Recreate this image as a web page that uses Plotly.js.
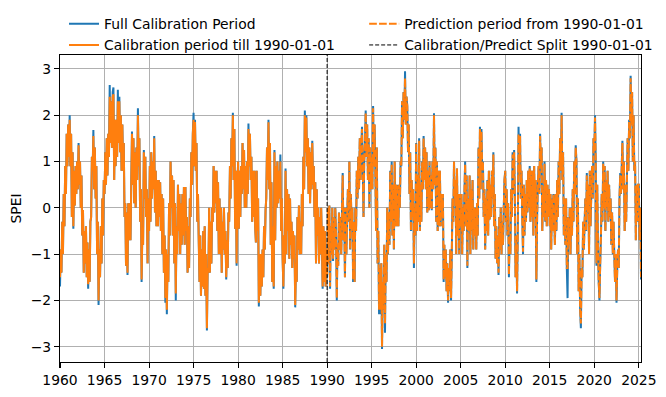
<!DOCTYPE html>
<html><head><meta charset="utf-8">
<script src="https://cdn.plot.ly/plotly-3.0.1.min.js"></script>
<style>html,body{margin:0;padding:0;background:#fff}</style>
</head><body><div id="chart" style="width:666px;height:397px"></div>
<script>
// ---- data (monthly SPEI values) ----
const calStartYear = 1960;          // calibration series starts Jan 1960
const predStartYear = 1990;         // prediction series starts Jan 1990
const splitDate = '1990-01-01';

const blueCal = [
-1.7,-0.9,-1.4,-0.3,-1.0,0.3,-0.4,0.9,0.3,1.6,0.9,1.8,
1.1,2.0,0.9,1.6,-0.2,1.2,-0.45,0.8,0.05,0.9,0.3,1.0,
0.4,1.4,0.5,1.0,0.0,0.7,-0.6,-0.05,-1.4,-0.5,-1.2,-0.4,
-1.5,-0.75,-1.75,-0.9,-1.6,-0.3,-0.2,1.1,0.8,1.68,0.4,1.3,
0.2,0.9,-1.0,-0.3,-2.1,-0.9,-1.5,-0.4,-1.2,0.2,-0.6,0.6,
0.3,1.2,0.5,1.5,0.7,1.6,1.1,2.65,1.4,2.3,1.3,2.5,
2.6,0.6,1.9,0.9,1.9,1.1,2.55,1.4,2.4,1.2,2.0,0.8,
1.8,0.8,1.4,-0.2,0.1,-1.25,-0.1,-1.45,0.1,-0.7,0.1,-0.7,
0.5,1.65,0.5,1.5,0.1,1.2,0.0,1.3,0.6,2.15,0.9,1.5,
-0.3,0.4,-1.6,-0.5,-0.8,1.25,0.2,1.1,-0.2,0.4,-1.2,0.2,
-0.5,0.9,-0.3,1.2,0.2,1.0,0.4,1.55,-0.1,0.8,-0.4,0.6,
-0.4,0.6,-0.2,0.55,-0.5,0.3,-1.0,0.2,-1.4,-0.6,-2.05,-0.9,
-2.3,-1.0,-1.6,0.1,-0.6,1.0,0.0,0.7,-0.6,0.6,-1.2,0.1,
-2.0,-0.4,-1.0,0.5,-0.5,0.3,-1.0,0.1,-0.8,0.3,-0.6,0.45,
-0.8,0.45,-0.5,-0.2,-1.4,-0.4,-1.3,0.2,-0.2,1.2,0.5,1.6,
2.05,0.9,1.9,0.8,1.4,-0.3,0.3,-0.7,-1.6,-0.6,-1.9,-0.9,
-1.7,-0.5,-1.75,-0.4,-1.9,-1.0,-2.65,-1.3,-1.4,0.0,-1.4,-0.3,
-1.2,0.0,-0.3,0.9,-0.1,0.8,0.1,0.8,-0.5,0.55,-1.0,0.2,
-1.0,0.0,-1.4,-0.3,-0.9,0.0,-1.0,-0.5,-1.55,-0.7,-1.3,-0.1,
-0.3,0.9,0.2,1.5,0.9,2.05,0.6,1.7,-0.45,0.8,-1.25,0.3,
1.0,-0.45,0.8,-0.2,0.9,0.3,1.4,0.4,1.25,0.0,0.9,0.0,
1.0,0.3,1.82,0.9,1.6,0.6,1.1,-0.3,0.8,-0.2,0.8,-0.4,
-0.75,0.8,-0.5,0.2,-2.13,-1.0,-1.9,-1.0,-1.7,-0.9,-1.5,-0.4,
-0.9,-0.05,0.2,1.3,0.6,1.9,0.4,1.4,-0.8,0.55,-1.6,-0.4,
-1.75,1.25,-0.7,0.9,0.0,1.0,0.1,0.8,0.2,1.15,-0.5,0.2,
-1.1,-1.75,-0.6,-1.2,0.85,-1.0,0.4,-0.5,0.3,-1.1,0.2,-0.8,
-0.3,-1.3,-0.5,-1.1,-0.6,-2.15,-1.2,-1.6,-0.2,-0.9,0.05,-1.0,
-0.3,-1.0,0.3,-0.4,1.1,0.4,2.1,1.2,2.0,0.9,1.5,0.3,
1.3,0.1,1.2,0.4,1.45,0.5,0.9,-0.2,0.55,-1.2,0.4,-0.6,
0.0,-1.2,-0.2,-1.0,0.0,-0.8,-1.75,-0.4,-1.6,-0.5,-1.7,-0.9
];

const bluePred = [
-1.5,0.0,-1.2,0.05,-1.75,-0.4,-1.0,0.0,-1.15,-0.2,-0.9,0.0,
-0.6,-2.0,-0.8,-1.25,-0.1,-0.9,-0.2,-1.0,-0.1,0.75,-0.7,0.0,
-1.5,0.0,-1.0,-0.2,0.4,-0.3,1.0,-0.9,0.3,-0.5,0.0,-1.6,
-0.3,-1.6,0.0,-0.5,0.8,0.2,1.1,0.4,1.5,0.6,1.3,1.75,
0.9,-0.2,1.0,1.4,2.1,1.1,1.8,0.6,1.5,0.0,1.3,0.4,
1.1,0.4,2.2,0.9,1.8,0.8,-0.5,1.3,-1.2,-0.5,-2.3,-1.3,
-2.3,-1.2,-3.05,-1.6,-2.2,-0.8,-2.7,-1.0,-1.6,0.0,-1.0,-0.1,
-0.8,0.8,-0.3,1.0,-0.6,0.5,-0.9,1.0,-0.4,0.5,-0.4,0.5,
-0.4,0.5,0.0,1.0,0.9,2.3,1.5,2.5,1.9,2.95,1.8,2.4,
2.2,1.2,1.8,0.3,1.2,-0.5,0.6,-0.2,0.4,-1.3,0.0,-0.6,
1.4,-0.5,0.7,-0.3,1.5,-0.5,0.5,-0.3,1.0,0.4,1.55,0.6,
1.3,0.4,1.2,-0.1,0.8,-0.05,1.0,0.0,0.7,-0.05,1.0,0.4,
2.04,0.5,1.3,-0.3,1.0,-0.5,0.8,-0.4,0.8,-0.4,0.3,-0.2,
0.3,-1.6,-0.8,-1.5,-0.9,-1.8,-1.2,-2.05,-1.3,-1.8,-0.9,-2.0,
-1.0,0.2,-0.3,1.0,0.2,0.6,-1.0,0.85,-0.6,0.3,-1.0,0.3,
-0.4,0.3,-1.0,0.0,-0.5,0.3,1.0,-0.4,0.7,-1.3,0.2,-0.5,
0.7,-1.0,0.4,-0.5,0.6,-0.9,0.0,-0.6,0.0,-0.9,0.1,-0.6,
1.3,0.2,1.75,0.4,1.7,0.8,1.0,-0.2,0.4,-0.9,0.2,-0.5,
0.6,-0.6,0.8,-0.25,0.5,-0.2,0.8,0.2,1.2,-0.4,0.3,-1.1,
-0.4,-1.2,-0.6,-1.45,-0.2,-0.9,0.0,-1.0,-0.3,-0.8,0.0,0.6,
0.8,-0.3,0.4,-0.6,0.1,-1.5,-0.6,-1.0,0.4,-0.2,1.2,0.3,
1.25,0.2,-1.5,-0.6,-1.85,-0.5,1.75,0.7,1.6,0.2,0.8,-0.2,
-1.0,0.5,-0.6,0.3,-0.3,0.6,-0.1,0.8,0.0,0.9,-0.3,0.8,
-0.2,0.8,-0.6,0.9,-0.2,0.6,-1.6,-0.2,0.5,0.9,0.3,1.6,
0.9,1.3,-0.5,0.4,-0.2,1.0,-0.3,0.6,-0.4,0.5,-0.2,0.4,
-0.4,0.3,-0.9,0.2,-0.5,0.3,-0.2,-0.8,0.3,-0.5,0.6,-0.2,
1.0,0.3,1.5,0.8,2.05,0.6,1.2,-0.6,0.2,-0.8,0.2,-1.3,
-1.95,-0.2,-0.8,0.0,-1.0,0.0,-0.6,0.4,-0.3,1.0,0.3,1.35,
1.0,-1.0,0.2,-1.8,-1.0,-2.2,-2.6,-1.3,-1.5,-0.3,-0.9,-0.3,
0.2,-0.5,0.75,-0.1,0.5,-1.0,0.8,-0.4,0.3,0.9,0.2,1.5,
1.2,2.0,1.0,-1.25,0.5,-0.8,-1.6,-2.0,-1.2,-0.6,0.3,-0.3,
1.0,0.0,0.9,-0.5,0.6,0.0,0.8,-0.3,0.5,-0.2,0.2,-0.8,
-0.1,-1.0,-0.3,-1.0,-1.6,-1.0,-2.05,-1.3,-0.9,-1.3,0.2,0.75,
0.3,0.9,1.45,0.4,1.0,-0.5,0.5,-0.3,0.6,1.5,0.8,1.9,
1.5,2.85,1.8,2.5,1.0,2.0,0.8,1.0,-0.7,0.5,-0.3,0.5,
0.5,-0.7,0.0,-1.55
];

const orangeCal = [
-1.5,-0.9,-1.4,-0.3,-1.0,0.3,-0.4,0.9,0.3,1.6,0.9,1.8,
1.1,1.9,0.9,1.6,-0.2,1.2,-0.4,0.8,0.05,0.9,0.3,1.0,
0.4,1.35,0.5,1.0,0.0,0.7,-0.6,-0.05,-1.4,-0.5,-1.2,-0.4,
-1.5,-0.75,-1.65,-0.9,-1.6,-0.3,-0.2,1.1,0.8,1.55,0.4,1.3,
0.2,0.9,-1.0,-0.3,-2.0,-0.9,-1.5,-0.4,-1.2,0.2,-0.6,0.6,
0.3,1.2,0.5,1.5,0.7,1.6,1.1,2.4,1.4,2.3,1.3,2.4,
2.45,0.6,1.9,0.9,1.9,1.1,2.3,1.4,2.3,1.2,2.0,0.8,
1.8,0.8,1.4,-0.2,0.1,-1.25,-0.1,-1.4,0.1,-0.7,0.1,-0.7,
0.5,1.6,0.5,1.5,0.1,1.2,0.0,1.3,0.6,2.0,0.9,1.5,
-0.3,0.4,-1.55,-0.5,-0.8,1.2,0.2,1.1,-0.2,0.4,-1.2,0.2,
-0.5,0.9,-0.3,1.2,0.2,1.0,0.4,1.5,-0.1,0.8,-0.4,0.6,
-0.4,0.6,-0.2,0.55,-0.5,0.3,-1.0,0.2,-1.4,-0.6,-1.95,-0.9,
-2.2,-1.0,-1.6,0.1,-0.6,1.0,0.0,0.7,-0.6,0.6,-1.2,0.1,
-1.85,-0.4,-1.0,0.5,-0.5,0.3,-1.0,0.1,-0.8,0.3,-0.6,0.45,
-0.8,0.45,-0.5,-0.2,-1.4,-0.4,-1.3,0.2,-0.2,1.2,0.5,1.6,
1.9,0.9,1.85,0.8,1.4,-0.3,0.3,-0.7,-1.6,-0.6,-1.9,-0.9,
-1.7,-0.5,-1.75,-0.4,-1.9,-1.0,-2.6,-1.3,-1.4,0.0,-1.4,-0.3,
-1.2,0.0,-0.3,0.9,-0.1,0.8,0.1,0.8,-0.5,0.55,-1.0,0.2,
-1.0,0.0,-1.4,-0.3,-0.9,0.0,-1.0,-0.5,-1.5,-0.7,-1.3,-0.1,
-0.3,0.9,0.2,1.5,0.9,2.0,0.6,1.7,-0.45,0.8,-1.2,0.3,
1.0,-0.45,0.8,-0.2,0.9,0.3,1.4,0.4,1.25,0.0,0.9,0.0,
1.0,0.3,1.7,0.9,1.6,0.6,1.1,-0.3,0.8,-0.2,0.8,-0.4,
-0.75,0.8,-0.5,0.2,-2.05,-1.0,-1.9,-1.0,-1.7,-0.9,-1.5,-0.4,
-0.9,-0.05,0.2,1.3,0.6,1.85,0.4,1.4,-0.8,0.55,-1.6,-0.4,
-1.7,1.2,-0.7,0.9,0.0,1.0,0.1,0.8,0.2,1.0,-0.5,0.2,
-1.1,-1.7,-0.6,-1.2,0.8,-1.0,0.4,-0.5,0.3,-1.1,0.2,-0.8,
-0.3,-1.3,-0.5,-1.1,-0.6,-2.1,-1.2,-1.6,-0.2,-0.9,0.05,-1.0,
-0.3,-1.0,0.3,-0.4,1.1,0.4,2.0,1.2,1.95,0.9,1.5,0.3,
1.3,0.1,1.2,0.4,1.4,0.5,0.9,-0.2,0.55,-1.2,0.4,-0.6,
0.0,-1.2,-0.2,-1.0,0.0,-0.8,-1.7,-0.4,-1.6,-0.5,-1.7,-0.9
];

const orangePred = [
-1.45,0.0,-1.2,0.05,-1.7,-0.4,-1.0,0.0,-1.1,-0.2,-0.9,0.0,
-0.6,-1.95,-0.8,-1.25,-0.1,-0.9,-0.2,-1.0,-0.1,0.7,-0.7,0.0,
-1.5,0.0,-1.0,-0.2,0.4,-0.3,1.0,-0.9,0.3,-0.5,0.0,-1.55,
-0.3,-1.6,0.0,-0.5,0.8,0.2,1.1,0.4,1.5,0.6,1.3,1.7,
0.9,-0.2,1.0,1.4,2.05,1.1,1.8,0.6,1.5,0.0,1.3,0.4,
1.1,0.4,2.15,0.9,1.8,0.8,-0.5,1.3,-1.2,-0.5,-2.2,-1.3,
-2.2,-1.2,-3.0,-1.6,-2.2,-0.8,-2.5,-1.0,-1.6,0.0,-1.0,-0.1,
-0.8,0.8,-0.3,0.95,-0.6,0.5,-0.9,1.0,-0.4,0.5,-0.4,0.5,
-0.4,0.5,0.0,1.0,0.9,2.3,1.5,2.5,1.9,2.8,1.8,2.4,
2.2,1.2,1.8,0.3,1.2,-0.5,0.6,-0.2,0.4,-1.2,0.0,-0.6,
1.4,-0.5,0.7,-0.3,1.45,-0.5,0.5,-0.3,1.0,0.4,1.5,0.6,
1.3,0.4,1.2,-0.1,0.8,-0.05,1.0,0.0,0.7,-0.05,1.0,0.4,
2.0,0.5,1.3,-0.3,1.0,-0.5,0.8,-0.4,0.8,-0.4,0.3,-0.2,
0.3,-1.55,-0.8,-1.5,-0.9,-1.8,-1.2,-2.0,-1.3,-1.8,-0.9,-1.95,
-1.0,0.2,-0.3,1.0,0.2,0.6,-1.0,0.85,-0.6,0.3,-1.0,0.3,
-0.4,0.3,-1.0,0.0,-0.5,0.3,0.95,-0.4,0.7,-1.25,0.2,-0.5,
0.7,-1.0,0.4,-0.5,0.6,-0.9,0.0,-0.6,0.0,-0.9,0.1,-0.6,
1.3,0.2,1.7,0.4,1.65,0.8,1.0,-0.2,0.4,-0.9,0.2,-0.5,
0.6,-0.6,0.8,-0.25,0.5,-0.2,0.8,0.2,1.15,-0.4,0.3,-1.1,
-0.4,-1.2,-0.6,-1.4,-0.2,-0.9,0.0,-1.0,-0.3,-0.8,0.0,0.6,
0.8,-0.3,0.4,-0.6,0.1,-1.45,-0.6,-1.0,0.4,-0.2,1.15,0.3,
1.2,0.2,-1.5,-0.6,-1.8,-0.5,1.6,0.7,1.55,0.2,0.8,-0.2,
-0.95,0.5,-0.6,0.3,-0.3,0.6,-0.1,0.8,0.0,0.85,-0.3,0.8,
-0.2,0.8,-0.6,0.9,-0.2,0.6,-1.55,-0.2,0.5,0.9,0.3,1.55,
0.9,1.3,-0.5,0.4,-0.2,0.95,-0.3,0.6,-0.4,0.5,-0.2,0.4,
-0.4,0.3,-0.9,0.2,-0.5,0.3,-0.2,-0.8,0.3,-0.5,0.6,-0.2,
1.0,0.3,1.5,0.8,2.0,0.6,1.2,-0.6,0.2,-0.8,0.2,-1.3,
-1.3,-0.2,-0.8,0.0,-1.0,0.0,-0.6,0.4,-0.3,1.0,0.3,1.3,
1.0,-1.0,0.2,-1.8,-1.0,-2.2,-2.5,-1.3,-1.5,-0.3,-0.9,-0.3,
0.2,-0.5,0.7,-0.1,0.5,-1.0,0.8,-0.4,0.3,0.9,0.2,1.5,
1.2,1.95,1.0,-1.2,0.5,-0.8,-1.6,-1.95,-1.2,-0.6,0.3,-0.3,
0.95,0.0,0.9,-0.5,0.6,0.0,0.8,-0.3,0.5,-0.2,0.2,-0.8,
-0.1,-1.0,-0.3,-1.0,-1.6,-1.0,-2.0,-1.3,-0.9,-1.3,0.2,0.7,
0.3,0.9,1.4,0.4,1.0,-0.5,0.5,-0.3,0.6,1.5,0.8,1.85,
1.5,2.8,1.8,2.5,1.0,2.0,0.8,1.0,-0.7,0.5,-0.3,0.5,
0.5,-0.7,0.0,-1.5
];

const xTickYears = [1960,1965,1970,1975,1980,1985,1990,1995,2000,2005,2010,2015,2020,2025];
const yTicks = [-3,-2,-1,0,1,2,3];
const yRange = [-3.33, 3.30];
const xRange = ['1960-01-01', '2025-04-01'];

const names = {
  full: 'Full Calibration Period',
  cal: 'Calibration period till 1990-01-01',
  pred: 'Prediction period from 1990-01-01',
  split: 'Calibration/Predict Split 1990-01-01'
};

function monthDates(startYear, n) {
  const out = [];
  for (let i = 0; i < n; i++) {
    const y = startYear + Math.floor(i / 12);
    const m = (i % 12) + 1;
    out.push(y + '-' + (m < 10 ? '0' + m : m) + '-01');
  }
  return out;
}

const blueAll = blueCal.concat(bluePred);
const xAll = monthDates(calStartYear, blueAll.length);
const xCal = monthDates(calStartYear, orangeCal.length);
const xPred = monthDates(predStartYear, orangePred.length);

const BLUE = '#1f77b4', ORANGE = '#ff7f0e';
const FONT = 'DejaVu Sans';
const FS = 13.9;

const traces = [
  {x: xAll, y: blueAll, type: 'scatter', mode: 'lines', name: names.full,
   line: {color: BLUE, width: 2, simplify: false}, legend: 'legend'},
  {x: xCal, y: orangeCal, type: 'scatter', mode: 'lines', name: names.cal,
   line: {color: ORANGE, width: 2, simplify: false}, legend: 'legend'},
  {x: xPred, y: orangePred, type: 'scatter', mode: 'lines', name: names.pred,
   line: {color: ORANGE, width: 2, dash: '7.7px,2.2px', simplify: false}, legend: 'legend2'},
  {x: [splitDate, splitDate], y: yRange, type: 'scatter', mode: 'lines', name: names.split,
   line: {color: '#000000', width: 1, dash: '4px,2px'}, legend: 'legend2'}
];

const legendCommon = {orientation: 'v', xanchor: 'left', yanchor: 'top', bgcolor: 'rgba(0,0,0,0)',
  borderwidth: 0, font: {family: FONT, size: FS, color: '#000'}, tracegroupgap: 0};

const layout = {
  width: 666, height: 397,
  margin: {l: 60, r: 25, t: 55, b: 35, pad: 0, autoexpand: false},
  paper_bgcolor: '#ffffff', plot_bgcolor: '#ffffff',
  font: {family: FONT, size: FS, color: '#000'},
  showlegend: true,
  legend: Object.assign({x: 0.0069, y: 1.152}, legendCommon),
  legend2: Object.assign({x: 0.5235, y: 1.152}, legendCommon),
  xaxis: {
    type: 'date', range: xRange,
    tickvals: xTickYears.map(y => y + '-01-01'),
    ticktext: xTickYears.map(String),
    ticks: 'outside', ticklen: 5, tickwidth: 1.1, tickcolor: '#000',
    showgrid: true, gridcolor: '#b0b0b0', gridwidth: 1.1,
    showline: true, mirror: true, linecolor: '#000', linewidth: 1.1,
    zeroline: false, tickfont: {family: FONT, size: FS, color: '#000'}
  },
  yaxis: {
    range: yRange, tickvals: yTicks,
    ticks: 'outside', ticklen: 5, tickwidth: 1.1, tickcolor: '#000',
    showgrid: true, gridcolor: '#b0b0b0', gridwidth: 1.1,
    showline: true, mirror: true, linecolor: '#000', linewidth: 1.1,
    zeroline: false, tickfont: {family: FONT, size: FS, color: '#000'},
    title: {text: 'SPEI', font: {family: FONT, size: FS, color: '#000'}, standoff: 5}
  }
};

Plotly.newPlot('chart', traces, layout, {displayModeBar: false, staticPlot: true});
</script>
</body></html>
